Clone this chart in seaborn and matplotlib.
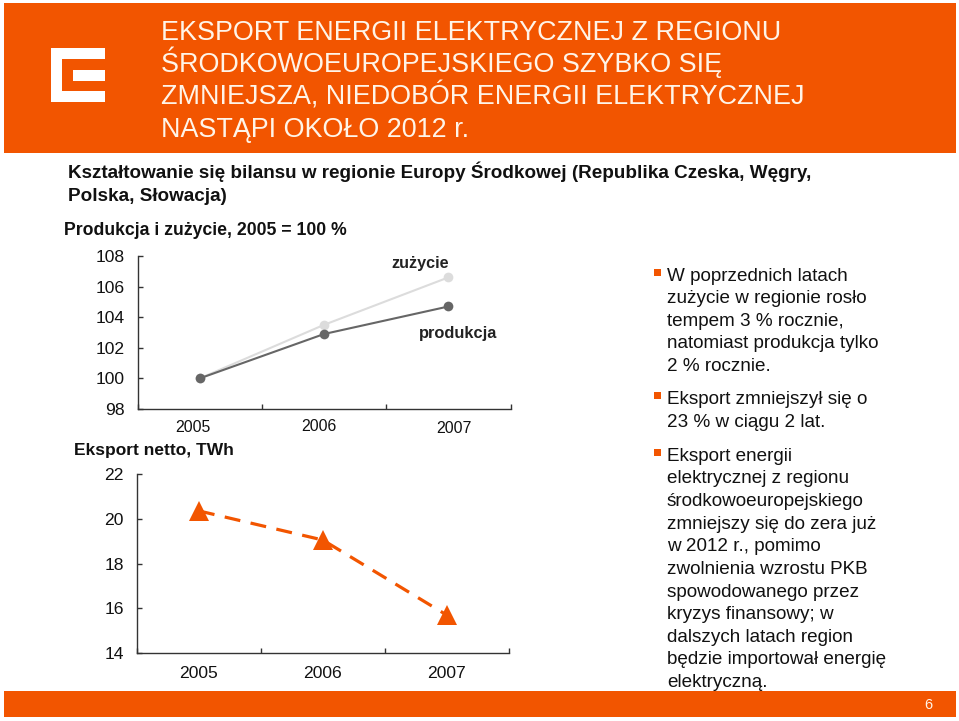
import matplotlib
matplotlib.use('Agg')
import matplotlib.pyplot as plt
from matplotlib.patches import Rectangle, Polygon
from matplotlib.transforms import ScaledTranslation
import seaborn as sns

# --- datos ---
years = [2005, 2006, 2007]
year_labels = ['2005', '2006', '2007']
zuzycie = [100, 103.5, 106.6]
produkcja = [100, 102.9, 104.7]
eksport = [20.35, 19.05, 15.7]
ticks_top = [98, 100, 102, 104, 106, 108]
ticks_bottom = [14, 16, 18, 20, 22]

title_lines = ['EKSPORT ENERGII ELEKTRYCZNEJ Z REGIONU',
               'ŚRODKOWOEUROPEJSKIEGO SZYBKO SIĘ',
               'ZMNIEJSZA, NIEDOBÓR ENERGII ELEKTRYCZNEJ',
               'NASTĄPI OKOŁO 2012 r.']
body_lines = [
    ('W poprzednich latach', 281, True), ('zużycie w regionie rosło', 303, False),
    ('tempem 3 % rocznie,', 326, False), ('natomiast produkcja tylko', 348, False),
    ('2 % rocznie.', 371, False),
    ('Eksport zmniejszył się o', 404, True), ('23 % w ciągu 2 lat.', 427, False),
    ('Eksport energii', 461, True), ('elektrycznej z regionu', 483, False),
    ('środkowoeuropejskiego', 506, False), ('zmniejszy się do zera już', 529, False),
    ('w 2012 r., pomimo', 551, False), ('zwolnienia wzrostu PKB', 574, False),
    ('spowodowanego przez', 597, False), ('kryzys finansowy; w', 619, False),
    ('dalszych latach region', 642, False), ('będzie importował energię', 664, False),
    ('elektryczną.', 687, False),
]

ORANGE = '#F25500'
W, H = 959, 721

sns.set_theme(style='white')
plt.rcParams['font.family'] = ['Liberation Sans', 'DejaVu Sans']

fig = plt.figure(figsize=(W / 100, H / 100), dpi=100)

# capa de fondo en pixeles
bg = fig.add_axes([0, 0, 1, 1])
bg.set_xlim(0, W)
bg.set_ylim(H, 0)
bg.axis('off')
bg.add_patch(Rectangle((4, 3), 952, 150, color=ORANGE, lw=0))
bg.add_patch(Rectangle((4, 691), 952, 26, color=ORANGE, lw=0))
bg.add_patch(Polygon([(51, 48), (105, 48), (105, 59), (62, 59), (62, 91), (105, 91), (105, 102), (51, 102)],
                     color='white', lw=0))
bg.add_patch(Rectangle((73, 70), 32, 11, color='white', lw=0))

for line, y in zip(title_lines, [40, 72, 105, 137]):
    bg.text(161, y, line, color='#FFF4E8', fontsize=19.4, va='baseline')
bg.text(68, 178, 'Kształtowanie się bilansu w regionie Europy Środkowej (Republika Czeska, Węgry,',
        fontsize=13.6, fontweight='bold', color='#111111', va='baseline')
bg.text(68, 201, 'Polska, Słowacja)', fontsize=13.6, fontweight='bold', color='#111111', va='baseline')
bg.text(64, 235, 'Produkcja i zużycie, 2005 = 100 %', fontsize=12.7, fontweight='bold',
        color='#111111', va='baseline')
bg.text(74, 455, 'Eksport netto, TWh', fontsize=12.55, fontweight='bold', color='#111111', va='baseline')
bg.text(391, 268, 'zużycie', fontsize=11.6, fontweight='bold', color='#222222', va='baseline')
bg.text(419, 338, 'produkcja', fontsize=11.8, fontweight='bold', color='#222222', va='baseline')

for line, y, bullet in body_lines:
    bg.text(667, y, line, fontsize=13.6, color='#111111', va='baseline')
    if bullet:
        bg.add_patch(Rectangle((654, y - 12), 7, 7, color=ORANGE, lw=0))
bg.text(928, 709, '6', fontsize=10.5, color='#FFF4E8', ha='center', va='baseline')


def chart_axes(left, right, top, bottom):
    ax = fig.add_axes([left / W, 1 - bottom / H, (right - left) / W, (bottom - top) / H])
    ax.patch.set_alpha(0)
    sns.despine(ax=ax)
    for s in ('left', 'bottom'):
        ax.spines[s].set_color('#333333')
        ax.spines[s].set_linewidth(1)
    ax.set_xlim(2004.5, 2007.5)
    ax.set_xticks([2004.5, 2005.5, 2006.5, 2007.5])
    ax.set_xticklabels([])
    ax.tick_params(axis='both', which='major', direction='in', length=3.6, width=1, color='#333333',
                   left=True, bottom=True, labelsize=12.6, labelcolor='#111111', pad=9.4)
    ax.set_xticks(years, minor=True)
    ax.set_xticklabels(year_labels, minor=True)
    ax.set_xlabel('')
    ax.set_ylabel('')
    return ax


# --- grafico superior ---
ax1 = chart_axes(137.5, 510.5, 256, 409)
sns.lineplot(x=years, y=zuzycie, ax=ax1, color='#DCDCDC', marker='o', markersize=7,
             markeredgewidth=0, linewidth=1.5)
sns.lineplot(x=years, y=produkcja, ax=ax1, color='#666666', marker='o', markersize=7,
             markeredgewidth=0, linewidth=1.5)
ax1.set_ylim(98, 108)
ax1.set_yticks(ticks_top)
ax1.set_xlabel('')
ax1.tick_params(axis='x', which='minor', length=0, labelsize=11.4, labelcolor='#111111', pad=8)
# etiquetas del eje un poco corridas, como en el original
for lab, dx, dy in zip(ax1.get_xticklabels(minor=True), [-7, -5, 6], [0, 1, -1]):
    lab.set_transform(lab.get_transform() + ScaledTranslation(dx / 100, dy / 100, fig.dpi_scale_trans))

# --- grafico inferior ---
ax2 = chart_axes(137, 508.5, 474, 653)
sns.lineplot(x=years, y=eksport, ax=ax2, color=ORANGE, marker='^', markersize=14,
             markeredgewidth=0, linewidth=2.3, linestyle=(0, (5, 3.3)))
ax2.set_ylim(14, 22)
ax2.set_yticks(ticks_bottom)
ax2.tick_params(axis='x', which='minor', length=0, labelsize=12.6, labelcolor='#111111', pad=9.5)

fig.savefig('out.png', dpi=100)
